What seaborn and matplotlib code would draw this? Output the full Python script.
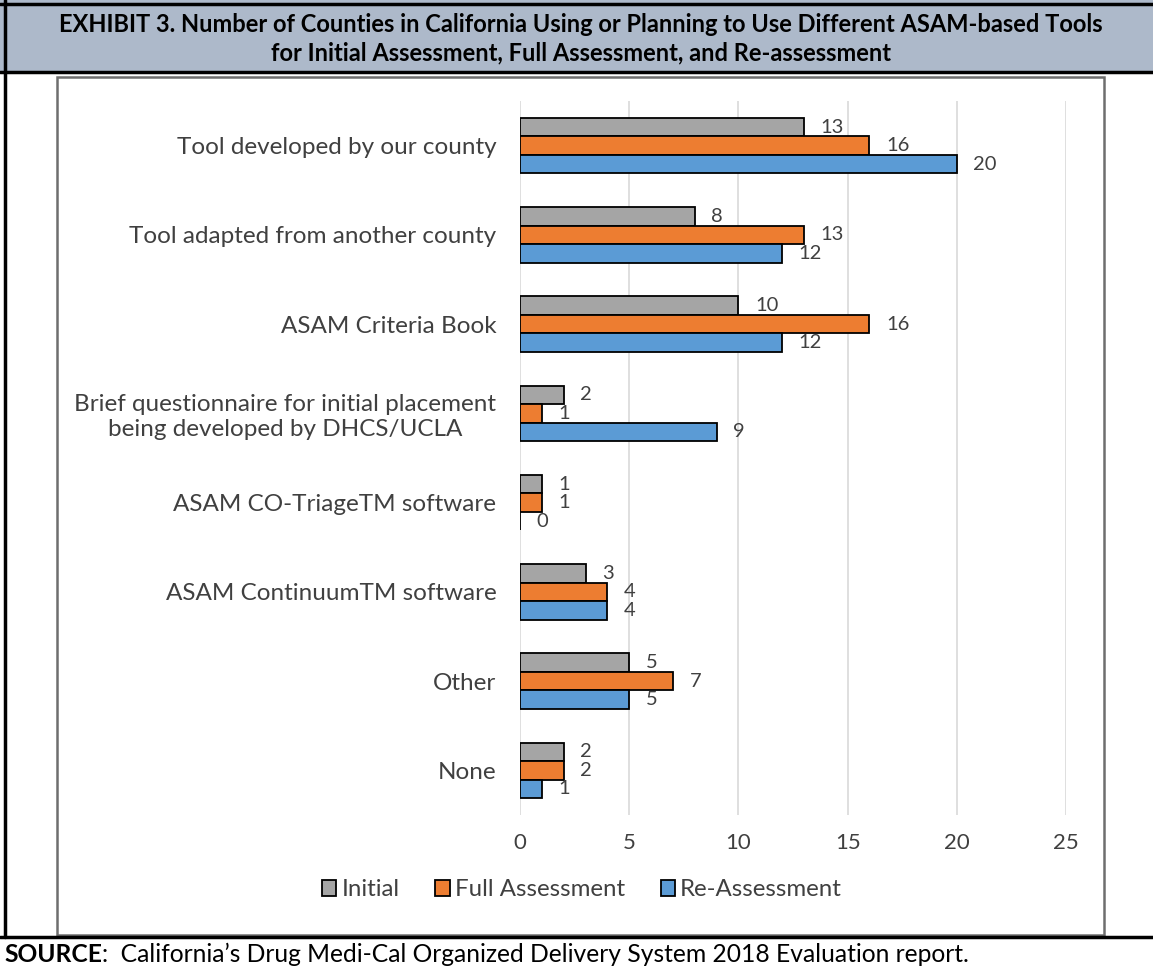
import matplotlib.pyplot as plt
import matplotlib.patches as patches
import matplotlib.lines as mlines
import pandas as pd
import seaborn as sns

# chart data
categories = ["Tool developed by our county",
              "Tool adapted from another county",
              "ASAM Criteria Book",
              "Brief questionnaire for initial placement\nbeing developed by DHCS/UCLA",
              "ASAM CO-TriageTM software",
              "ASAM ContinuumTM software",
              "Other",
              "None"]
initial = [13, 8, 10, 2, 1, 3, 5, 2]
full_assessment = [16, 13, 16, 1, 1, 4, 7, 2]
re_assessment = [20, 12, 12, 9, 0, 4, 5, 1]
series_names = ["Initial", "Full Assessment", "Re-Assessment"]
x_ticks = [0, 5, 10, 15, 20, 25]

title_lines = ["EXHIBIT 3. Number of Counties in California Using or Planning to Use Different ASAM-based Tools",
               "for Initial Assessment, Full Assessment, and Re-assessment"]
source_label = "SOURCE"
source_text = ":  California\u2019s Drug Medi-Cal Organized Delivery System 2018 Evaluation report."

colors = ["#a5a5a5", "#ed7d31", "#5b9bd5"]

rows = []
for name, vals in zip(series_names, [initial, full_assessment, re_assessment]):
    for cat, v in zip(categories, vals):
        rows.append({"category": cat, "series": name, "value": v})
df = pd.DataFrame(rows)

sns.set_style("white")
plt.rcParams['font.family'] = ['Lato', 'DejaVu Sans']

W, H = 1153, 968
fig = plt.figure(figsize=(W / 100, H / 100), dpi=100)


def fx(px):
    return px / W


def fy(py):
    return 1 - py / H


# header band and frame lines
fig.add_artist(patches.Rectangle((0, fy(72)), 1, 72 / H, transform=fig.transFigure,
                                 facecolor="#adb9ca", edgecolor="none", zorder=0))
for (x0, y0, x1, y1, lw) in [(0, 4, W, 4, 2.5), (0, 72, W, 72, 2.5), (0, 937, W, 937, 2.5),
                             (5, 0, 5, 937, 2.5)]:
    fig.add_artist(mlines.Line2D([fx(x0), fx(x1)], [fy(y0), fy(y1)], transform=fig.transFigure,
                                 color="black", linewidth=lw))
fig.add_artist(patches.Rectangle((fx(57), fy(935)), fx(1104) - fx(57), (935 - 77) / H,
                                 transform=fig.transFigure, facecolor="none",
                                 edgecolor="#6e6e6e", linewidth=1.8))

fig.text(fx(581), fy(24), title_lines[0], ha="center", va="center", fontsize=17,
         fontweight="bold", color="black")
fig.text(fx(581), fy(53), title_lines[1], ha="center", va="center", fontsize=17,
         fontweight="bold", color="black")

ax = fig.add_axes([fx(520), fy(815), fx(1066) - fx(520), (815 - 101) / H])
sns.barplot(data=df, x="value", y="category", hue="series", order=categories,
            hue_order=series_names, palette=colors, orient="h", width=0.62,
            saturation=1, edgecolor="black", linewidth=1.3, errorbar=None, ax=ax)

for cont in ax.containers:
    ax.bar_label(cont, padding=12, fontsize=14.5, color="#404040")

ax.set_xlim(0, 25)
ax.set_ylim(7.5, -0.5)
ax.set_xticks(x_ticks)
ax.set_xlabel("")
ax.set_ylabel("")
ax.grid(axis="x", color="#d9d9d9", linewidth=1.2)
ax.set_axisbelow(True)
for s in ax.spines.values():
    s.set_visible(False)
ax.tick_params(axis="y", length=0, pad=17, labelsize=17.5, labelcolor="#404040")
ax.tick_params(axis="x", length=0, pad=13, labelsize=16, labelcolor="#404040")
for lab in ax.get_yticklabels():
    lab.set_multialignment("center")
    lab.set_linespacing(1.2)

handles, labels = ax.get_legend_handles_labels()
ax.legend(handles, labels, loc="center", bbox_to_anchor=(fx(582), fy(890)),
          bbox_transform=fig.transFigure, ncol=3, frameon=False, fontsize=17.3,
          handlelength=0.6, handleheight=0.6, handletextpad=0.2, columnspacing=1.5,
          labelcolor="#404040")

t1 = fig.text(fx(4), fy(954), source_label, ha="left", va="center", fontsize=17.7,
              fontweight="bold", color="black")
ax.annotate(source_text, xy=(1, 0), xycoords=t1, ha="left", va="bottom", fontsize=17.7,
            color="black", annotation_clip=False)

fig.savefig("out.png", dpi=100)
